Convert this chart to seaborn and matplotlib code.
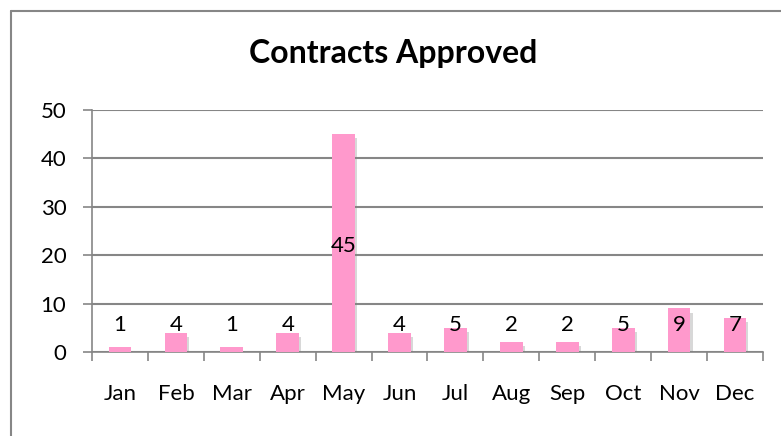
import matplotlib
matplotlib.use("Agg")
import matplotlib.pyplot as plt
import matplotlib.patheffects as pe
from matplotlib.lines import Line2D
from matplotlib.ticker import FixedLocator
import seaborn as sns
import pandas as pd
import numpy as np

months = ["Jan", "Feb", "Mar", "Apr", "May", "Jun", "Jul", "Aug", "Sep", "Oct", "Nov", "Dec"]
contracts = [1, 4, 1, 4, 45, 4, 5, 2, 2, 5, 9, 7]
yticks = [0, 10, 20, 30, 40, 50]

sns.set_theme(style="white")
plt.rcParams['font.family'] = ['Lato', 'DejaVu Sans']

df = pd.DataFrame({"month": months, "contracts": contracts})

fig = plt.figure(figsize=(7.81, 4.36), dpi=100)
ax = fig.add_axes([92/781, 1-352/436, (763-92)/781, (352-110)/436])

pink = "#FF99CC"
grey = "#868686"
fs = 16

sns.barplot(data=df, x="month", y="contracts", color=pink, width=0.405,
            saturation=1, ax=ax, zorder=3)
for p in ax.patches:
    p.set_path_effects([pe.SimplePatchShadow(offset=(1.5, -3), shadow_rgbFace="#808080", alpha=0.3),
                        pe.Normal()])
    p.set_edgecolor("none")

ax.set_ylim(0, 50)
ax.set_xlim(-0.5, len(months) - 0.5)
ax.set_yticks(yticks)
ax.yaxis.grid(True, color=grey, linewidth=1.5, zorder=0)
ax.xaxis.grid(False)
ax.set_xlabel("")
ax.set_ylabel("")

for side in ["top", "right"]:
    ax.spines[side].set_visible(False)
for side in ["left", "bottom"]:
    ax.spines[side].set_color(grey)
    ax.spines[side].set_linewidth(1.2)

ax.tick_params(axis="y", which="major", left=True, length=6.5, width=1.2, color=grey,
               pad=12, labelsize=fs, labelcolor="black")
ax.tick_params(axis="x", which="major", bottom=False, length=0, pad=23, labelsize=fs,
               labelcolor="black")
ax.xaxis.set_minor_locator(FixedLocator(np.arange(-0.5, len(months), 1.0)))
ax.tick_params(axis="x", which="minor", bottom=True, length=6.5, width=1.2, color=grey)

for i, v in enumerate(contracts):
    ypos = v / 2 - 0.5 if v > 20 else 5.5
    ax.text(i, ypos, str(v), ha="center", va="center", fontsize=fs, color="black", zorder=5)

fig.suptitle("Contracts Approved", x=393/781, y=1-53/436, va="center",
             fontsize=23, fontweight="bold", color="black")

fig.add_artist(Line2D([11/781, 11/781], [0, 1-11/436], transform=fig.transFigure,
                      color=grey, linewidth=1.5))
fig.add_artist(Line2D([11/781, 1], [1-11/436, 1-11/436], transform=fig.transFigure,
                      color=grey, linewidth=1.5))

fig.savefig("out.png", dpi=100)
